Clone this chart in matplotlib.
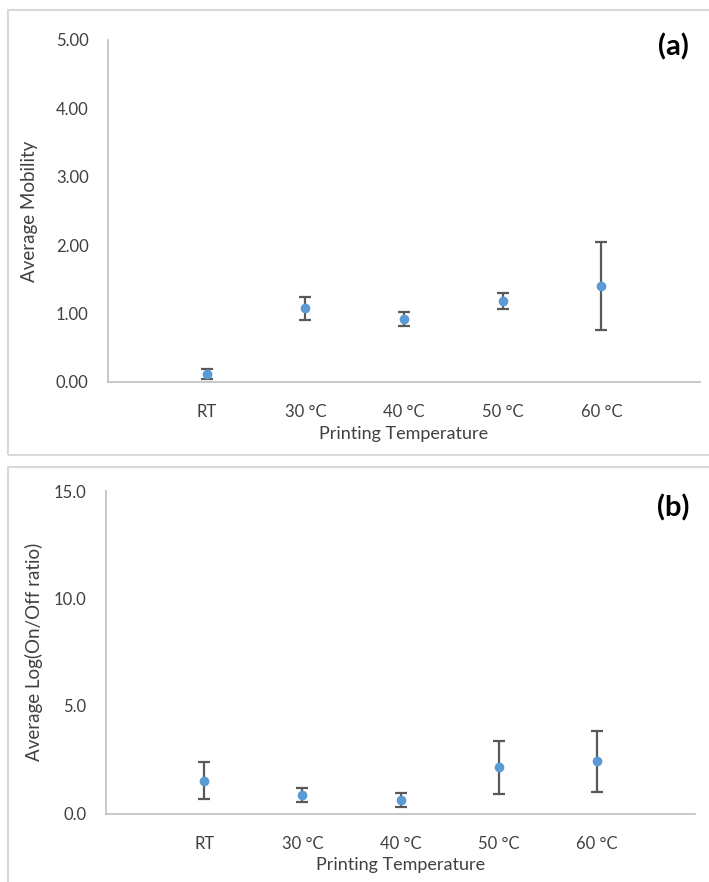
import matplotlib.pyplot as plt
from matplotlib.patches import Rectangle

plt.rcParams['font.family'] = ['Lato', 'DejaVu Sans']

# printing temperatures
temps = ['RT', '30 °C', '40 °C', '50 °C', '60 °C']

# (a) average mobility with error
mobility = [0.12, 1.08, 0.92, 1.18, 1.40]
mobility_err = [0.07, 0.17, 0.10, 0.12, 0.645]

# (b) average log(on/off ratio) with error
onoff = [1.52, 0.86, 0.62, 2.15, 2.42]
onoff_err = [0.86, 0.33, 0.32, 1.23, 1.40]

W, H = 709, 882
fig = plt.figure(figsize=(W / 100, H / 100), dpi=100)

# light grey frames around each panel (as in the Excel export)
for y0, y1 in [(10, 455), (467, 886)]:
    fig.patches.append(Rectangle((8 / W, 1 - y1 / H), (W + 10 - 8) / W, (y1 - y0) / H,
                                 transform=fig.transFigure, fill=False,
                                 edgecolor='#d9d9d9', linewidth=1.5))


def panel(box, vals, errs, ylim, yticks, fmt, ylabel, ylabel_x, tag, tag_y):
    left, right, top, bottom = box
    ax = fig.add_axes([left / W, 1 - bottom / H, (right - left) / W, (bottom - top) / H])
    x = range(1, len(temps) + 1)
    ax.errorbar(x, vals, yerr=errs, fmt='o', color='#5b9bd5', markersize=6,
                ecolor='#595959', elinewidth=1.6, capsize=4, capthick=1.6, zorder=3)
    ax.set_xlim(0, 6)
    ax.set_ylim(*ylim)
    ax.set_xticks(list(x))
    ax.set_xticklabels(temps)
    ax.set_yticks(yticks)
    ax.set_yticklabels([fmt.format(v) for v in yticks])
    for s in ['top', 'right']:
        ax.spines[s].set_visible(False)
    for s in ['left', 'bottom']:
        ax.spines[s].set_color('#bfbfbf')
        ax.spines[s].set_linewidth(1.2)
    ax.tick_params(axis='both', length=0, labelsize=12, colors='#404040')
    ax.tick_params(axis='x', pad=16)
    ax.tick_params(axis='y', pad=14)
    ax.set_xlabel('Printing Temperature', fontsize=13, color='#404040', labelpad=4)
    ax.set_ylabel(ylabel, fontsize=13.5, color='#404040')
    ax.yaxis.set_label_coords((ylabel_x - left) / (right - left), 0.5)
    fig.text(673 / W, 1 - tag_y / H, tag, fontsize=21, fontweight='bold',
             ha='center', va='center')
    return ax


panel((108, 700, 40, 382), mobility, mobility_err, (0, 5), [0, 1, 2, 3, 4, 5],
      '{:.2f}', 'Average Mobility', 38, '(a)', 47)
panel((106, 695, 491, 813.5), onoff, onoff_err, (0, 15), [0, 5, 10, 15],
      '{:.1f}', 'Average Log(On/Off ratio)', 43, '(b)', 508)

fig.savefig('out.png', dpi=100)
